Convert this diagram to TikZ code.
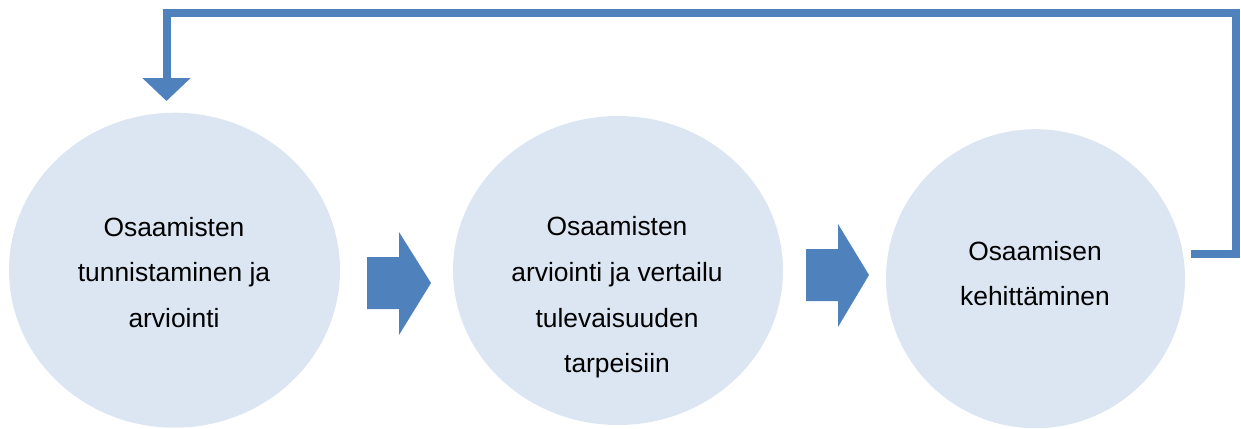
\documentclass[tikz,border=0pt]{standalone}
\usepackage{fontspec}
\setmainfont{Liberation Sans}
\usetikzlibrary{shapes.geometric,arrows.meta}
\definecolor{circfill}{HTML}{DCE6F2}
\definecolor{arrblue}{HTML}{4F81BD}
\tikzset{
  bubble/.style={ellipse, fill=circfill, draw=none, inner sep=0pt},
  label/.style={align=center, font=\fontsize{13.2}{22.8}\selectfont, text=black, inner sep=0pt},
  blockarrow/.style={fill=arrblue, draw=none},
  loopline/.style={draw=arrblue, line width=4pt, miter limit=10, -{Triangle[width=23.5pt,length=11.5pt]}}
}
\begin{document}
\begin{tikzpicture}[x=0.5pt,y=-0.5pt]
\useasboundingbox (0,0) rectangle (1241,428);
% bubbles
\node[bubble, minimum width=165.5pt, minimum height=157.5pt] (c1) at (174.5,270.2) {};
\node[bubble, minimum width=165pt, minimum height=154.5pt] (c2) at (618,270.5) {};
\node[bubble, minimum width=149.5pt, minimum height=149.5pt] (c3) at (1035.5,278.7) {};
% texts
\node[label] (t1) at (174,272.5) {Osaamisten\\tunnistaminen ja\\arviointi};
\node[label] (t2) at (617,297.5) {Osaamisten\\arviointi ja vertailu\\tulevaisuuden\\tarpeisiin};
\node[label] (t3) at (1035,273.5) {Osaamisen\\kehittäminen};
% block arrows
\fill[blockarrow] (367,257) -- (399,257) -- (399,232) -- (431,283) -- (399,335) -- (399,309) -- (367,309) -- cycle;
\fill[blockarrow] (806,249) -- (838,249) -- (838,224) -- (869,275) -- (838,327) -- (838,301) -- (806,301) -- cycle;
% feedback loop
\coordinate (ls) at (1191,254);
\coordinate (le) at (166.5,101);
\draw[loopline] (ls) -- (1236,254) -- (1236,13) -- (166.5,13) -- (le);
\end{tikzpicture}
\end{document}
